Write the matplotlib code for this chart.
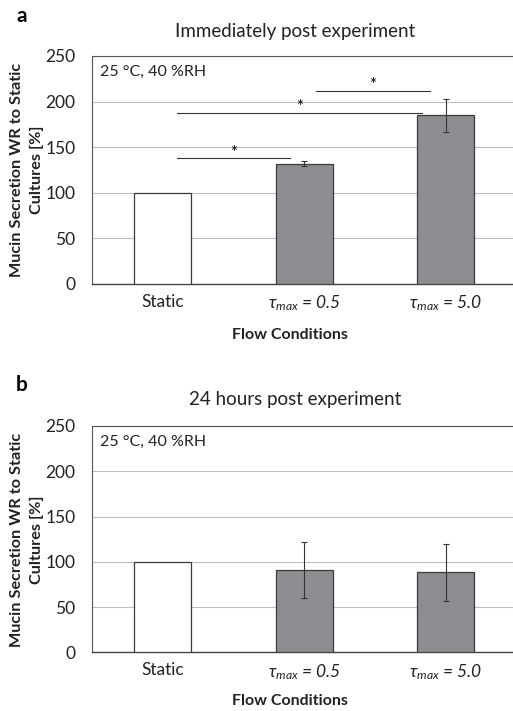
import numpy as np
import matplotlib
matplotlib.use('Agg')
import matplotlib.pyplot as plt

# datos
categories = ['Static', r'$\tau_{max}$ = 0.5', r'$\tau_{max}$ = 5.0']
vals_a = [100, 132, 185]
err_a = [0, 2.5, 18]
vals_b = [100, 91, 88.5]
err_b = [0, 31, 31.5]
# barras de significancia: (x0, x1, y)
sig_a = [(0.1, 0.9, 138), (0.1, 1.83, 188), (1.08, 1.89, 212)]
yticks = [0, 50, 100, 150, 200, 250]

plt.rcParams['font.family'] = ['Lato', 'DejaVu Sans']
plt.rcParams['mathtext.fontset'] = 'custom'
plt.rcParams['mathtext.it'] = 'Lato:italic'
plt.rcParams['mathtext.rm'] = 'Lato'

W, H = 513, 711
fig = plt.figure(figsize=(W / 100, H / 100), dpi=100)

def px(x, y):
    return x / W, 1 - y / H

colors = ['white', '#8c8d91', '#8c8d91']

def panel(rect, vals, errs, sig):
    ax = fig.add_axes(rect)
    x = np.arange(len(categories))
    ax.bar(x, vals, width=0.4, color=colors, edgecolor='#3a3a3a', linewidth=0.9, zorder=3)
    ax.errorbar(x[1:], vals[1:], yerr=errs[1:], fmt='none', ecolor='#333333',
                elinewidth=0.8, capsize=2.5, capthick=0.8, zorder=4)
    ax.set_xlim(-0.5, 2.5)
    ax.set_ylim(0, 250)
    ax.set_yticks(yticks)
    ax.yaxis.grid(True, color='#bdbdbd', linewidth=0.8, zorder=0)
    ax.set_axisbelow(True)
    ax.set_xticks(x)
    ax.set_xticklabels(categories)
    for lab in ax.get_xticklabels()[1:]:
        lab.set_fontstyle('italic')
    ax.tick_params(axis='both', length=0, labelsize=12.5, colors='#222222')
    ax.tick_params(axis='y', pad=12)
    ax.tick_params(axis='x', pad=7)
    for s in ['left', 'top', 'right']:
        ax.spines[s].set_color('#555555')
        ax.spines[s].set_linewidth(0.8)
    ax.spines['bottom'].set_color('#444444')
    ax.spines['bottom'].set_linewidth(1.0)
    ax.text(0.02, 0.93, '25 °C, 40 %RH', transform=ax.transAxes, fontsize=11.5,
            ha='left', va='center', color='#222222')
    for x0, x1, y in sig:
        ax.plot([x0, x1], [y, y], color='#333333', linewidth=0.8, zorder=4)
        ax.text((x0 + x1) / 2, y - 3, '*', ha='center', va='bottom', fontsize=12)
    return ax

panel([92 / W, 1 - 284 / H, 424.5 / W, 228 / H], vals_a, err_a, sig_a)
panel([92 / W, 1 - 652.3 / H, 424.5 / W, 226.3 / H], vals_b, err_b, [])

ylab = 'Mucin Secretion WR to Static\nCultures [%]'
for lbl, ly, title, ty, fy, yl in [('a', 16, 'Immediately post experiment', 31, 335, 170),
                                    ('b', 385, '24 hours post experiment', 400, 701, 540)]:
    fig.text(*px(22, ly), lbl, fontsize=15, fontweight='bold', ha='center', va='center')
    fig.text(*px(295, ty), title, fontsize=13.5, ha='center', va='center', color='#222222')
    fig.text(*px(290, fy), 'Flow Conditions', fontsize=11.5, fontweight='bold',
             ha='center', va='center', color='#222222')
    fig.text(*px(27, yl), ylab, fontsize=11.7, fontweight='bold', rotation=90,
             ha='center', va='center', multialignment='center', color='#222222',
             linespacing=1.45)

fig.savefig('out.png', dpi=100)
